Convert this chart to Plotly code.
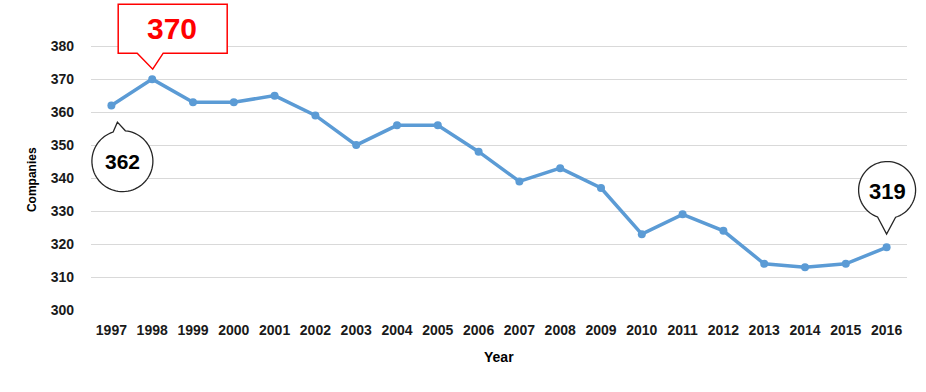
import math
import plotly.graph_objects as go

years = [str(y) for y in range(1997, 2017)]
companies = [362, 370, 363, 363, 365, 359, 350, 356, 356, 348,
             339, 343, 337, 323, 329, 324, 314, 313, 314, 319]
y_ticks = [300, 310, 320, 330, 340, 350, 360, 370, 380]
Y_RANGE = [300, 394]

LINE = "#5B9BD5"
FONT = "Liberation Sans, Arial, sans-serif"

fig = go.Figure()
fig.add_trace(go.Scatter(
    x=years, y=companies, mode="lines+markers",
    line=dict(color=LINE, width=3.5),
    marker=dict(color=LINE, size=8),
    hoverinfo="x+y", showlegend=False,
))


def bubble_path(cx, cy, r, a_start, a_end, tip, n=72):
    pts = []
    for i in range(n + 1):
        a = math.radians(a_start + (a_end - a_start) * i / n)
        pts.append((cx + r * math.cos(a), cy + r * math.sin(a)))
    pts.append(tip)
    return "M " + " L ".join(f"{x:.2f},{y:.2f}" for x, y in pts) + " Z"


def paper_x(i):
    return (i + 0.5) / len(years)


def paper_y(v):
    return (v - Y_RANGE[0]) / (Y_RANGE[1] - Y_RANGE[0])


i97 = years.index("1997")
i98 = years.index("1998")
i16 = years.index("2016")

shapes = [
    # 370 callout (red rectangle with pointer), pixel offsets relative to 1998 point
    dict(type="path", xref="paper", yref="paper", xsizemode="pixel", ysizemode="pixel",
         xanchor=paper_x(i98), yanchor=paper_y(companies[i98]),
         path="M -34,75 L 75,75 L 75,26 L 11,26 L 0.5,10 L -15,26 L -34,26 Z",
         line=dict(color="#FF0000", width=1.5), fillcolor="white", layer="above"),
    # 362 bubble (pointer upward)
    dict(type="path", xref="paper", yref="paper", xsizemode="pixel", ysizemode="pixel",
         xanchor=paper_x(i97), yanchor=paper_y(companies[i97]),
         path=bubble_path(11, -55.6, 30.5, 84.4, -252.3, (6, -16.6)),
         line=dict(color="#262626", width=1.3), fillcolor="white", layer="above"),
    # 319 bubble (pointer downward)
    dict(type="path", xref="paper", yref="paper", xsizemode="pixel", ysizemode="pixel",
         xanchor=paper_x(i16), yanchor=paper_y(companies[i16]),
         path=bubble_path(0.5, 57.3, 28.5, -72.6, 250.5, (0, 13.3)),
         line=dict(color="#262626", width=1.3), fillcolor="white", layer="above"),
]

annotations = [
    dict(x=i98, y=companies[i98], xref="x", yref="y", showarrow=False,
         text=f"<b>{companies[i98]}</b>", xshift=20, yshift=51,
         font=dict(family=FONT, size=30, color="#FF0000")),
    dict(x=i97, y=companies[i97], xref="x", yref="y", showarrow=False,
         text=f"<b>{companies[i97]}</b>", xshift=11, yshift=-56,
         font=dict(family=FONT, size=21, color="black")),
    dict(x=i16, y=companies[i16], xref="x", yref="y", showarrow=False,
         text=f"<b>{companies[i16]}</b>", xshift=0.5, yshift=56,
         font=dict(family=FONT, size=22, color="black")),
    dict(x=0.5, y=-0.153, xref="paper", yref="paper", showarrow=False,
         text="<b>Year</b>", xanchor="center", yanchor="middle",
         font=dict(family=FONT, size=14, color="black")),
    dict(x=-0.072, y=0.42, xref="paper", yref="paper", showarrow=False,
         text="<b>Companies</b>", textangle=-90, xanchor="center", yanchor="middle",
         font=dict(family=FONT, size=12, color="black")),
]

fig.update_layout(
    width=926, height=392,
    margin=dict(l=91, r=19, t=0, b=82),
    paper_bgcolor="white", plot_bgcolor="white",
    shapes=shapes, annotations=annotations,
    xaxis=dict(
        type="category", range=[-0.5, len(years) - 0.5],
        showgrid=False, showline=False, zeroline=False,
        ticks="", ticklabelstandoff=10,
        tickfont=dict(family=FONT, size=14, color="#1a1a1a", weight="bold"),
    ),
    yaxis=dict(
        range=Y_RANGE, tickvals=y_ticks,
        showgrid=True, gridcolor="#D9D9D9", gridwidth=1,
        zeroline=False, showline=False, ticks="",
        ticklabelstandoff=16,
        tickfont=dict(family=FONT, size=14, color="#1a1a1a", weight="bold"),
    ),
)

fig.write_html(
    "out.html",
    config={"displayModeBar": False},
    post_script="document.body.style.margin='0';document.body.style.overflow='hidden';",
)
